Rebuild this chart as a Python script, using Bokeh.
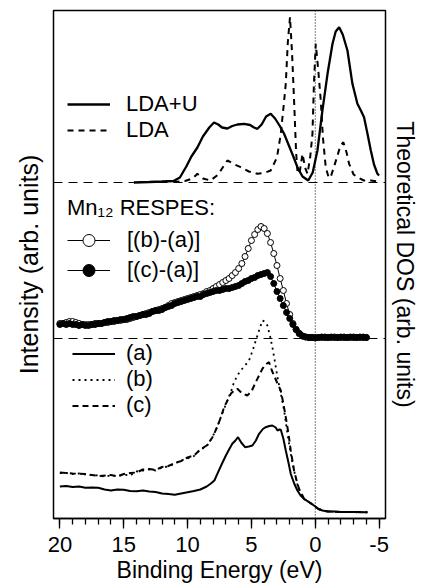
import numpy as np
from bokeh.plotting import figure
from bokeh.models import Range1d, FixedTicker, Span, Legend, LegendItem, Title
from bokeh.embed import file_html
from bokeh.resources import INLINE

FONT = "Liberation Sans"

# ---------------- Theoretical DOS (top panel) ----------------
lda_u_energy = [14.2, 13.0, 12.0, 11.1, 10.6, 10.1, 9.7, 9.23, 8.8, 8.3, 7.93, 7.6, 7.3, 6.88,
                6.5, 6.1, 5.58, 5.1, 4.8, 4.53, 4.2, 3.85, 3.49, 3.15, 2.8, 2.44, 2.1, 1.75,
                1.40, 1.0, 0.55, 0.2, -0.17, -0.56, -0.96, -1.35, -1.6, -1.87, -2.15, -2.52,
                -2.91, -3.30, -3.57, -3.82, -4.1, -4.35, -4.6, -4.87, -5.0]
lda_u_dos = [0, 0.5, 1, 1.5, 5, 16, 26, 35, 46, 55, 60, 58, 55, 54,
             56.5, 58, 58.7, 57.5, 55, 53.7, 58, 66, 68.7, 64, 57, 48.7, 38, 27,
             15.3, 6, 2, 10, 32, 72, 108.7, 138.7, 151, 155.3, 148, 132,
             98.7, 78.7, 72, 65.3, 48, 32, 18, 8.7, 7]

lda_energy = [11.1, 10.2, 9.6, 9.23, 8.8, 8.2, 7.6, 7.2, 6.88, 6.3, 5.84, 5.2, 4.53, 3.9, 3.49,
              3.0, 2.7, 2.45, 2.31, 2.15, 1.98, 1.82, 1.66, 1.5, 1.38, 1.2, 1.0, 0.8, 0.61,
              0.4, 0.22, 0.1, -0.04, -0.25, -0.43, -0.6, -0.82, -1.05, -1.2, -1.45, -1.7,
              -1.95, -2.2, -2.45, -2.65, -3.0, -3.3, -3.8, -4.35, -4.9]
lda_dos = [0.5, 1.5, 4, 8.7, 4, 2, 8, 16, 22, 18, 15.3, 11, 8.7, 10, 12,
           25, 48.7, 80, 98.7, 140, 165.3, 130, 82, 30, 8.7, 12, 28.7, 15, 8.7,
           25, 48.7, 100, 138.7, 110, 82, 45, 15.3, 5, 5.3, 15, 25.3,
           36, 40.3, 30, 18.7, 8, 5.3, 2, 2, 1]

# ---------------- Mn12 RESPES differences (middle panel) ----------------
respes_energy = [20 - 0.25 * i for i in range(97)]
respes_b_minus_a = [15, 15, 16, 17, 17, 16, 15, 14, 14, 14,
                    14, 15, 15, 15, 16, 16, 17, 17, 18, 18,
                    19, 19, 20, 21, 22, 23, 24, 25, 26, 27,
                    28, 29, 30, 31, 33, 35, 36, 37, 38, 39,
                    40, 41, 42, 43, 44, 45, 47, 48, 50, 52,
                    54, 56, 58, 60, 63, 66, 70, 75, 82, 90,
                    98, 104, 109, 112, 110, 105, 96, 85, 73, 60,
                    48, 35, 24, 15, 9, 5, 2.5, 1.5, 1, 1,
                    0.5, 1, 1, 1.5, 1, 1, 1.5, 1, 1, 1.5,
                    1, 1, 1.5, 1, 1, 1.5, 1]
respes_c_minus_a = [14, 15, 14, 15, 14, 14, 13, 14, 13, 13,
                    14, 14, 15, 15, 16, 17, 17, 18, 18, 19,
                    19, 20, 21, 22, 22, 23, 24, 24, 25, 27,
                    28, 28, 29, 31, 32, 33, 35, 36, 37, 38,
                    39, 40, 41, 42, 42, 44, 45, 46, 47, 48,
                    48, 49, 50, 50, 51, 52, 53, 55, 57, 58,
                    60, 61, 63, 64, 65, 66, 62, 55, 47, 40,
                    33, 26, 20, 14, 9, 5, 2.5, 1.5, 1, 1,
                    1, 1, 1.5, 1, 1, 1.5, 1, 1, 1.5, 1,
                    1, 1.5, 1, 1, 1.5, 1, 1]

# ---------------- Photoemission spectra (bottom panel) ----------------
spec_a_energy = [20.0, 19.5, 19.0, 18.5, 18.0, 17.5, 17.0, 16.5, 16.0, 15.5, 15.0, 14.5, 14.0,
                 13.5, 13.0, 12.5, 12.0, 11.5, 11.0, 10.5, 10.0, 9.5, 9.0, 8.5, 8.2, 7.9,
                 7.67, 7.3, 7.0, 6.75, 6.5, 6.25, 6.05, 5.8, 5.5, 5.2, 4.92, 4.65, 4.4, 4.1,
                 3.88, 3.6, 3.36, 3.1, 2.96, 2.8, 2.7, 2.5, 2.31, 2.1, 1.92, 1.65, 1.4, 1.15,
                 0.88, 0.5, 0.1, -0.25, -0.56, -1.0, -1.5, -2.0, -2.5, -3.0, -3.5, -4.09]
spec_a = [32, 32.5, 31.5, 32, 30.7, 31, 30.7, 29, 28, 29, 28.7, 27.5, 27.3,
          28, 27, 26.5, 25, 24.5, 23.7, 25, 26.3, 27.5, 29, 32, 34.7, 38,
          44.7, 55, 63, 69, 74.7, 78, 81.3, 76, 71.3, 72, 73, 78, 84.7, 89.5,
          91.3, 92.5, 93, 91, 88, 89, 88.7, 80, 68, 56, 44.7, 35, 28, 23,
          19.7, 16.5, 13, 9.5, 8, 7, 7, 6.5, 6.5, 6.5, 6.3, 6.3]

spec_b_energy = [20.0, 19.5, 19.0, 18.5, 18.0, 17.5, 17.0, 16.5, 16.0, 15.5, 15.0, 14.5, 14.0,
                 13.5, 13.0, 12.5, 12.0, 11.5, 11.0, 10.5, 10.0, 9.5, 9.0, 8.5, 8.06, 7.7,
                 7.4, 7.1, 6.88, 6.6, 6.36, 6.1, 5.84, 5.5, 5.19, 4.9, 4.66, 4.4, 4.14, 3.95,
                 3.75, 3.55, 3.36, 3.15, 2.96, 2.7, 2.44, 2.25, 2.05, 1.85, 1.66, 1.4, 1.14,
                 0.88, 0.5, 0.1, -0.25, -0.56, -1.0, -2.0, -3.0, -4.09]
spec_b = [45.3, 45.5, 44.5, 45, 44, 43.5, 43, 42, 43, 42.5, 44, 43, 47,
          48, 49, 48, 51, 52, 55, 58, 60, 62.5, 69, 72, 81.3, 91,
          101.3, 111, 118, 127, 136.3, 143, 148, 153, 158, 168, 178, 188, 198, 197,
          193, 183, 171.3, 156, 141.3, 125, 108, 91, 74.7, 60, 48, 34, 24.7,
          19.5, 16.5, 13, 9.5, 8, 7, 6.5, 6.5, 6.3]

spec_c_energy = [20.0, 19.0, 18.0, 17.0, 16.0, 15.5, 15.0, 14.5, 14.0, 13.5, 13.0, 12.5, 12.0,
                 11.5, 11.0, 10.5, 10.0, 9.5, 9.0, 8.5, 8.06, 7.7, 7.4, 7.14, 6.88, 6.6, 6.36,
                 6.1, 5.8, 5.5, 5.32, 5.0, 4.66, 4.4, 4.14, 3.9, 3.62, 3.4, 3.23, 2.96, 2.7,
                 2.5, 2.31, 2.1, 1.92, 1.66, 1.4, 1.14, 1.0, 0.88, 0.5, 0.1, -0.25, -0.56,
                 -1.0, -2.0, -3.0, -4.09]
spec_c = [46, 45, 44.5, 42.5, 43.5, 42, 44.5, 45.5, 46, 49, 49.5, 48.5, 51.5,
          52.5, 55.5, 57.5, 61, 63, 69, 73, 81, 91, 101, 111.3, 118, 125, 128,
          129.7, 126, 124, 123, 127, 136.3, 143, 149.7, 154, 156.3, 148, 143, 135, 128,
          115, 101.3, 85, 68, 48, 34.7, 25, 23, 19.7, 16.5, 13, 9.5, 8,
          7, 6.5, 6.5, 6.3]

x_ticks = [20, 15, 10, 5, 0, -5]
x_tick_labels = ["20", "15", "10", "5", "0", "-5"]
x_minor_ticks = list(range(-5, 21))

# vertical placement of the stacked panels (layout offsets)
DOS_OFFSET = 336
RESPES_OFFSET = 180

p = figure(width=425, height=588, x_range=Range1d(20.5, -5.5), y_range=Range1d(0, 508),
           output_backend="svg", toolbar_location=None,
           min_border_left=53, min_border_right=40, min_border_top=10, min_border_bottom=70)
p.grid.visible = False
p.outline_line_color = "black"
p.outline_line_width = 1.5
p.background_fill_color = "white"
p.border_fill_color = "white"
p.yaxis.visible = False

# bottom axis
xa = p.xaxis[0]
xa.ticker = FixedTicker(ticks=x_ticks, minor_ticks=x_minor_ticks)
xa.major_label_overrides = {t: l for t, l in zip(x_ticks, x_tick_labels)}
xa.major_tick_in = 0
xa.major_tick_out = 10
xa.minor_tick_in = 0
xa.minor_tick_out = 6
xa.major_tick_line_width = 1.3
xa.minor_tick_line_width = 1.3
xa.axis_line_width = 1.5
xa.major_label_text_font = FONT
xa.major_label_text_font_size = "22px"
xa.major_label_text_color = "black"
xa.major_label_standoff = 8

# axis titles drawn as side titles
p.add_layout(Title(text="Binding Energy (eV)", align="center", text_font=FONT,
                   text_font_size="23px", text_font_style="normal", text_color="black",
                   standoff=0), "below")
p.add_layout(Title(text="Intensity (arb. units)", align="center", text_font=FONT,
                   text_font_size="25px", text_font_style="normal", text_color="black",
                   standoff=21), "left")
p.add_layout(Title(text="Theoretical DOS (arb. units)", align="center", text_font=FONT,
                   text_font_size="23px", text_font_style="normal", text_color="black",
                   standoff=12), "right")

# reference lines
p.add_layout(Span(location=DOS_OFFSET, dimension="width", line_color="black",
                  line_width=1.2, line_dash="9 6"))
p.add_layout(Span(location=RESPES_OFFSET, dimension="width", line_color="black",
                  line_width=1.2, line_dash="9 6"))
p.add_layout(Span(location=0, dimension="height", line_color="black",
                  line_width=1, line_dash="1 2"))

# top: DOS
r_ldau = p.line(lda_u_energy, np.array(lda_u_dos) + DOS_OFFSET, line_color="black", line_width=2.3)
r_lda = p.line(lda_energy, np.array(lda_dos) + DOS_OFFSET, line_color="black", line_width=2,
               line_dash="6 5")

# middle: RESPES
yb = np.array(respes_b_minus_a) + RESPES_OFFSET
yc = np.array(respes_c_minus_a) + RESPES_OFFSET
rb_line = p.line(respes_energy, yb, line_color="black", line_width=1)
rb_pts = p.scatter(respes_energy, yb, marker="circle", size=6, fill_color="white",
                   line_color="black", line_width=1)
rc_line = p.line(respes_energy, yc, line_color="black", line_width=1)
rc_pts = p.scatter(respes_energy, yc, marker="circle", size=6, fill_color="black",
                   line_color="black", line_width=1)

# bottom: spectra
r_a = p.line(spec_a_energy, spec_a, line_color="black", line_width=2)
r_b = p.line(spec_b_energy, spec_b, line_color="black", line_width=1.8, line_dash="2 4")
r_c = p.line(spec_c_energy, spec_c, line_color="black", line_width=2, line_dash="6 4")


def make_legend(items, loc, glyph_h, standoff, spacing, title=None):
    kw = dict(items=items, location=loc, padding=0, margin=0, spacing=spacing,
              border_line_color=None, background_fill_alpha=0,
              label_text_font=FONT, label_text_font_size="22px", label_text_color="black",
              glyph_width=43, glyph_height=glyph_h, label_height=glyph_h,
              label_standoff=standoff)
    if title is not None:
        kw.update(title=title, title_text_font=FONT, title_text_font_size="22px",
                  title_text_font_style="normal", title_text_color="black", title_standoff=4)
    return Legend(**kw)


leg_top = make_legend([LegendItem(label="LDA+U", renderers=[r_ldau]),
                       LegendItem(label="LDA", renderers=[r_lda])], (14, 375), 26, 16, 0)
leg_mid = make_legend([LegendItem(label="[(b)-(a)]", renderers=[rb_line, rb_pts]),
                       LegendItem(label="[(c)-(a)]", renderers=[rc_line, rc_pts])],
                      (14, 233), 30, 17, -5, title="Mn\u2081\u2082 RESPES:")
leg_bot = make_legend([LegendItem(label="(a)", renderers=[r_a]),
                       LegendItem(label="(b)", renderers=[r_b]),
                       LegendItem(label="(c)", renderers=[r_c])], (19, 100), 23, 11, -3)
for lg in (leg_top, leg_mid, leg_bot):
    p.add_layout(lg)

open("out.html", "w").write(file_html(p, INLINE))
